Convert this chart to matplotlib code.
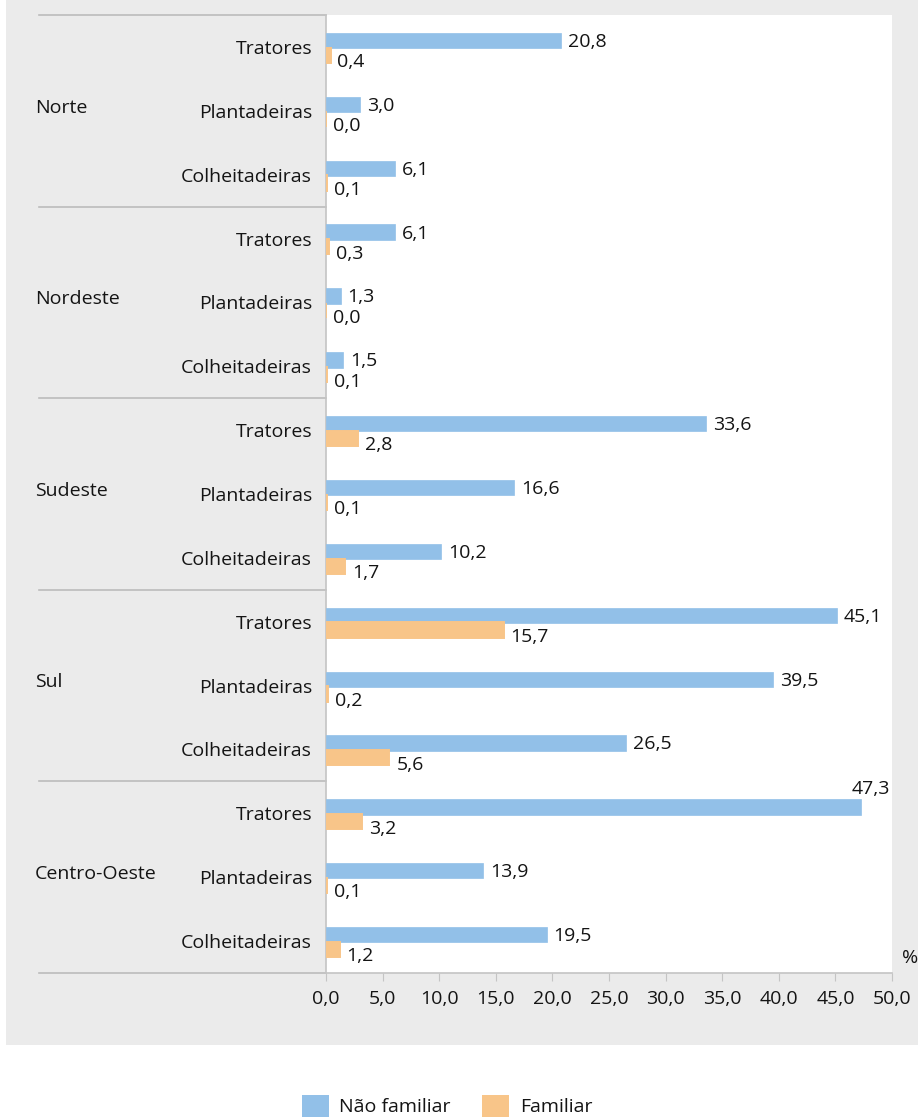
import matplotlib
matplotlib.use("Agg")
import matplotlib.pyplot as plt
from matplotlib.patches import Rectangle, Patch
import matplotlib.transforms as mtransforms

regioes = ["Norte", "Nordeste", "Sudeste", "Sul", "Centro-Oeste"]
maquinas = ["Tratores", "Plantadeiras", "Colheitadeiras"]
nao_familiar = [20.8, 3.0, 6.1, 6.1, 1.3, 1.5, 33.6, 16.6, 10.2,
                45.1, 39.5, 26.5, 47.3, 13.9, 19.5]
familiar = [0.4, 0.0, 0.1, 0.3, 0.0, 0.1, 2.8, 0.1, 1.7,
            15.7, 0.2, 5.6, 3.2, 0.1, 1.2]
x_ticks = [0, 5, 10, 15, 20, 25, 30, 35, 40, 45, 50]

AZUL = "#92c0e8"
LARANJA = "#f8c589"
CINZA = "#ebebeb"
TEXTO = "#141414"
LINHA = "#c4c4c4"

plt.rcParams["font.family"] = ["Open Sans", "DejaVu Sans"]
plt.rcParams["font.size"] = 14
plt.rcParams["text.color"] = TEXTO

W, H = 918, 1118
fig = plt.figure(figsize=(W / 100, H / 100), dpi=100)
fig.patch.set_facecolor("white")

# painel cinza de fundo
fig.patches.append(Rectangle((6 / W, 1 - 1045 / H), 1 - 6 / W, 1045 / H,
                             transform=fig.transFigure, facecolor=CINZA,
                             edgecolor="none", zorder=-10))

ax_l, ax_r, ax_t, ax_b = 326, 892, 15, 973
ax = fig.add_axes([ax_l / W, 1 - ax_b / H, (ax_r - ax_l) / W, (ax_b - ax_t) / H])
ax.set_facecolor("white")

n = len(nao_familiar)
pos = list(range(n))
h = 0.24
ax.barh([p - 0.1 for p in pos], nao_familiar, height=h, color=AZUL,
        edgecolor=AZUL, linewidth=0.5, zorder=3)
ax.barh([p + 0.13 for p in pos], familiar, height=h, color=LARANJA,
        edgecolor=LARANJA, linewidth=1.4, zorder=3)

ax.set_xlim(0, 50)
ax.set_ylim(n - 0.5, -0.5)

def fmt(v):
    return f"{v:.1f}".replace(".", ",")

for p, v in zip(pos, nao_familiar):
    if v > 46:
        ax.annotate(fmt(v), xy=(50, p - 0.1), xytext=(-1.5, 13),
                    textcoords="offset points", ha="right", va="center")
    else:
        ax.annotate(fmt(v), xy=(v, p - 0.1), xytext=(5, -1),
                    textcoords="offset points", ha="left", va="center")
for p, v in zip(pos, familiar):
    ax.annotate(fmt(v), xy=(v, p + 0.13), xytext=(5, -5),
                textcoords="offset points", ha="left", va="center")

ax.set_yticks(pos)
ax.set_yticklabels(maquinas * len(regioes))
ax.tick_params(axis="y", length=0, pad=10, labelcolor=TEXTO)

ax.set_xticks(x_ticks)
ax.set_xticklabels([fmt(t) for t in x_ticks])
ax.tick_params(axis="x", length=6, color=LINHA, pad=6, labelcolor=TEXTO)

for s in ["top", "right"]:
    ax.spines[s].set_visible(False)
for s in ["left", "bottom"]:
    ax.spines[s].set_color(LINHA)
    ax.spines[s].set_linewidth(1.2)
    ax.spines[s].set_zorder(2)

# linhas separadoras e nomes das regioes
trans = mtransforms.blended_transform_factory(ax.transAxes, ax.transData)
x0 = (39 - ax_l) / (ax_r - ax_l)
for k in range(len(regioes) + 1):
    yb = 3 * k - 0.5
    ax.plot([x0, 0], [yb, yb], color="#bcbcbc", lw=1.2, transform=trans,
            clip_on=False, zorder=1)
xr = (35 - ax_l) / (ax_r - ax_l)
for k, nome in enumerate(regioes):
    ax.text(xr, 3 * k + 0.95, nome, transform=trans, ha="left", va="center")

fig.text(910 / W, 1 - 958 / H, "%", ha="center", va="center")

handles = [Patch(facecolor=AZUL, edgecolor="none", label="Não familiar"),
           Patch(facecolor=LARANJA, edgecolor="none", label="Familiar")]
fig.legend(handles=handles, loc="center", bbox_to_anchor=(447 / W, 1 - 1106 / H),
           ncol=2, frameon=False, handlelength=1.4, handleheight=1.4,
           handletextpad=0.55, columnspacing=1.6, borderpad=0)

fig.savefig("out.png", dpi=100)
